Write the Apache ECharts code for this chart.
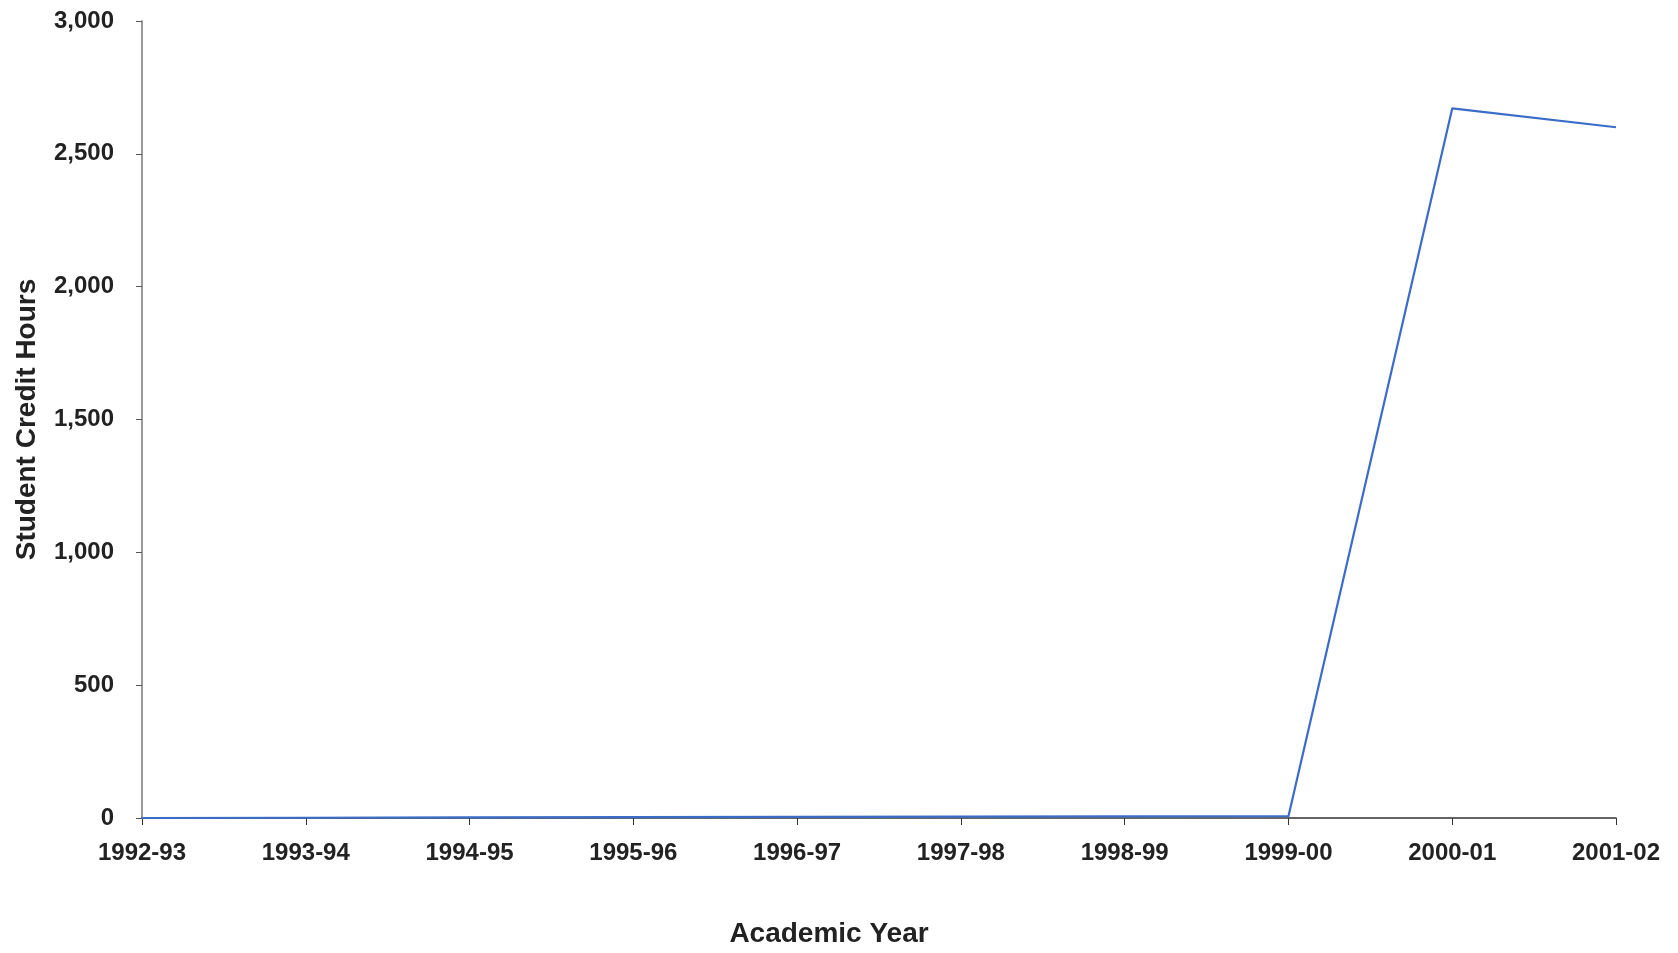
<!DOCTYPE html>
<html>
<head>
<meta charset="utf-8">
<script src="https://cdn.jsdelivr.net/npm/echarts@6/dist/echarts.min.js"></script>
<style>html,body{margin:0;padding:0;background:#fff}#c{width:1678px;height:953px}</style>
</head>
<body>
<div id="c"></div>
<script>
const categories = ['1992-93','1993-94','1994-95','1995-96','1996-97','1997-98','1998-99','1999-00','2000-01','2001-02'];
const creditHours = [0, 1, 2, 3, 4, 5, 6, 7, 2671, 2600];
const yTicks = [0, 500, 1000, 1500, 2000, 2500, 3000];

const chart = echarts.init(document.getElementById('c'));
const font = '"Liberation Sans", Arial, sans-serif';
chart.setOption({
  animation: false,
  backgroundColor: '#ffffff',
  grid: { left: 142, right: 62, top: 21, bottom: 130, containLabel: false },
  xAxis: {
    type: 'category',
    data: categories,
    boundaryGap: false,
    name: 'Academic Year',
    nameLocation: 'middle',
    nameGap: 102,
    nameTextStyle: { fontFamily: font, fontWeight: 'bold', fontSize: 28, color: '#222', padding: [0, 100, 0, 0] },
    axisLine: { lineStyle: { color: '#333', width: 1.5 } },
    axisTick: { alignWithLabel: true, length: 7, lineStyle: { color: '#333' } },
    axisLabel: { fontFamily: font, fontWeight: 'bold', fontSize: 24, color: '#222', margin: 23 },
    splitLine: { show: false }
  },
  yAxis: {
    type: 'value',
    min: yTicks[0],
    max: yTicks[yTicks.length - 1],
    interval: 500,
    name: 'Student Credit Hours',
    nameLocation: 'middle',
    nameGap: 101,
    nameTextStyle: { fontFamily: font, fontWeight: 'bold', fontSize: 28, color: '#222' },
    axisLine: { show: true, lineStyle: { color: '#777', width: 1.5 } },
    axisTick: { show: true, length: 6, lineStyle: { color: '#555' } },
    axisLabel: {
      fontFamily: font, fontWeight: 'bold', fontSize: 24, color: '#222', margin: 28,
      formatter: v => v.toLocaleString('en-US')
    },
    splitLine: { show: false }
  },
  series: [{
    type: 'line',
    data: creditHours,
    symbol: 'none',
    lineStyle: { color: '#3a6cc8', width: 2.2 }
  }]
});
</script>
</body>
</html>
